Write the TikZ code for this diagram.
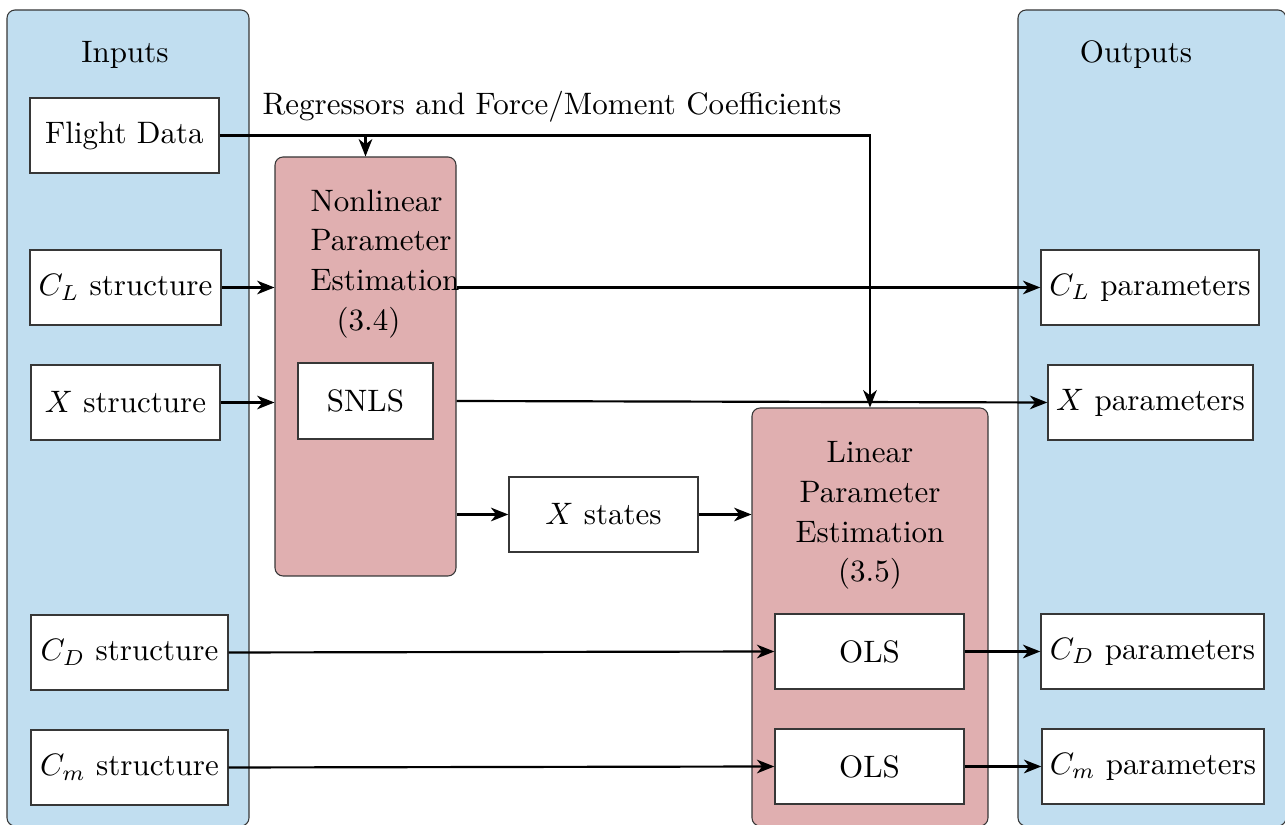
\documentclass[tikz,border=0pt]{standalone}
\usetikzlibrary{arrows.meta}
\definecolor{panelblue}{RGB}{193,222,240}
\definecolor{panelpink}{RGB}{224,175,176}
\definecolor{edgegray}{RGB}{55,55,55}
\def\px{0.3225pt}
\begin{document}
\begin{tikzpicture}[x=0.3225pt,y=-0.3225pt,
  font=\fontsize{10}{12.8}\selectfont,
  panel/.style={draw=edgegray,line width=0.35pt,rounded corners=2.6pt,inner sep=0pt},
  bluepanel/.style={panel,fill=panelblue},
  pinkpanel/.style={panel,fill=panelpink},
  wbox/.style={draw=edgegray,line width=0.45pt,fill=white,minimum height=75*\px,inner sep=1pt},
  conn/.style={line width=0.7pt,-{Stealth[length=5.6pt,width=4.4pt,inset=1.7pt]}}]
\useasboundingbox (0,0) rectangle (1285,825);
\clip (0,0) rectangle (1285,825);
% panels
\node[bluepanel,minimum width=242*\px,minimum height=816*\px] (inputs) at (128,418) {};
\node[bluepanel,minimum width=268*\px,minimum height=816*\px] (outputs) at (1152,418) {};
\node (inlab) at (125,55) {Inputs};
\node (outlab) at (1136,55) {Outputs};
\node[pinkpanel,minimum width=181*\px,minimum height=419*\px] (npe) at (365.5,366.5) {};
\node[pinkpanel,minimum width=236*\px,minimum height=418*\px] (lpe) at (870,617) {};
\node[anchor=north west,inner sep=0pt,align=left] (npetext) at (310,189)
  {Nonlinear\\Parameter\\Estimation\\\hspace*{8.4pt}(3.4)};
\node[anchor=north,inner sep=0pt,align=center] (lpetext) at (870,441)
  {Linear\\Parameter\\Estimation\\(3.5)};
% input boxes
\node[wbox,minimum width=189*\px] (fd) at (124.5,135.5) {Flight Data};
\node[wbox,minimum width=191*\px] (cls) at (125.5,287.5) {$C_L$ structure};
\node[wbox,minimum width=189*\px] (xs) at (125.5,402.5) {$X$ structure};
\node[wbox,minimum width=197*\px] (cds) at (129.5,652.5) {$C_D$ structure};
\node[wbox,minimum width=197*\px] (cms) at (129.5,767.5) {$C_m$ structure};
% inner boxes
\node[wbox,minimum width=135*\px,minimum height=76*\px] (snls) at (365.5,401) {SNLS};
\node[wbox,minimum width=189*\px] (xst) at (603.5,514.5) {$X$ states};
\node[wbox,minimum width=189*\px] (ols1) at (869.5,651.5) {OLS};
\node[wbox,minimum width=189*\px] (ols2) at (869.5,766.5) {OLS};
% output boxes
\node[wbox,minimum width=218*\px] (clp) at (1150,287.5) {$C_L$ parameters};
\node[wbox,minimum width=205*\px] (xp) at (1150.5,402.5) {$X$ parameters};
\node[wbox,minimum width=223*\px] (cdp) at (1152.5,651.5) {$C_D$ parameters};
\node[wbox,minimum width=222*\px] (cmp) at (1153,766.5) {$C_m$ parameters};
% label
\node[anchor=base west,inner sep=0pt] (reglab) at (262,115) {Regressors and Force/Moment Coefficients};
% connectors
\draw[conn] (fd.east) -| (lpe.north);
\draw[conn] (fd.east -| npe.north) -- (npe.north);
\draw[conn] (cls.east) -- (cls.east -| npe.west);
\draw[conn] (xs.east) -- (xs.east -| npe.west);
\draw[conn] (npe.east |- clp.west) -- (clp.west);
\draw[conn] (npe.east |- snls.east) -- (xp.west);
\draw[conn] (npe.east |- xst.west) -- (xst.west);
\draw[conn] (xst.east) -- (xst.east -| lpe.west);
\draw[conn] (cds.east) -- (ols1.west);
\draw[conn] (cms.east) -- (ols2.west);
\draw[conn] (ols1.east) -- (cdp.west);
\draw[conn] (ols2.east) -- (cmp.west);
\end{tikzpicture}
\end{document}
